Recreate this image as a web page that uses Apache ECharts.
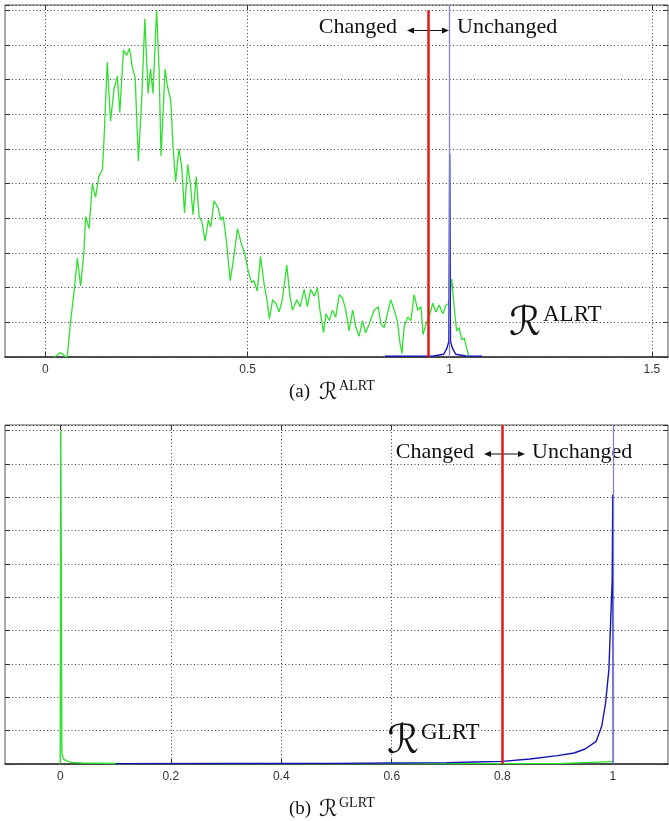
<!DOCTYPE html>
<html><head><meta charset="utf-8">
<script src="https://cdn.jsdelivr.net/npm/echarts@6/dist/echarts.min.js"></script>
<style>html,body{margin:0;padding:0;background:#fff;}#c{width:669px;height:821px;}</style>
</head><body><div id="c"></div>
<script>
// ---------- data ----------
const xTicksA = [0, 0.5, 1, 1.5];
const xTickLabelsA = ['0', '0.5', '1', '1.5'];
const xTicksB = [0, 0.2, 0.4, 0.6, 0.8, 1];
const xTickLabelsB = ['0', '0.2', '0.4', '0.6', '0.8', '1'];

// (a) ALRT: histogram of changed pixels (green)
const greenA = [
  [0.02,0],[0.029,0.05],[0.036,0.12],[0.042,0.1],[0.048,0.02],[0.054,0],[0.062,1.0],[0.071,1.9],
  [0.079,2.85],[0.087,2.05],[0.095,3.0],[0.0995,4.05],[0.108,3.7],[0.116,5.0],[0.124,4.6],[0.132,5.2],
  [0.141,5.4],[0.145,6.3],[0.153,8.5],[0.161,6.8],[0.170,7.75],[0.178,8.1],[0.184,7.05],[0.193,8.85],
  [0.201,8.7],[0.208,8.9],[0.215,8.35],[0.222,8.05],[0.230,5.65],[0.238,7.4],[0.246,9.75],[0.254,7.6],
  [0.260,8.3],[0.266,7.6],[0.275,10.0],[0.281,8.35],[0.286,5.8],[0.296,8.3],[0.302,7.8],[0.310,7.4],
  [0.316,6.0],[0.322,5.05],[0.330,6.0],[0.337,5.5],[0.344,4.15],[0.352,5.55],[0.359,4.95],[0.365,4.1],
  [0.373,5.2],[0.380,4.05],[0.387,3.9],[0.395,3.35],[0.403,3.95],[0.409,3.75],[0.417,4.5],[0.427,4.3],
  [0.434,3.95],[0.440,4.05],[0.449,3.2],[0.457,2.2],[0.465,2.8],[0.475,3.7],[0.485,3.25],[0.493,3.0],
  [0.501,2.5],[0.510,2.15],[0.516,2.2],[0.524,1.9],[0.532,2.9],[0.541,2.1],[0.548,1.65],[0.554,1.1],
  [0.562,1.65],[0.570,1.55],[0.578,1.3],[0.586,1.65],[0.597,2.65],[0.605,1.75],[0.611,1.35],[0.622,1.65],
  [0.630,1.45],[0.640,1.95],[0.648,1.45],[0.656,1.95],[0.665,1.75],[0.673,2.0],[0.679,1.35],[0.688,0.7],
  [0.694,1.25],[0.702,1.05],[0.710,1.35],[0.718,1.15],[0.727,1.8],[0.735,1.7],[0.743,1.35],[0.751,0.75],
  [0.760,1.35],[0.768,0.85],[0.776,0.6],[0.784,1.05],[0.792,0.7],[0.801,0.95],[0.813,1.35],[0.823,1.45],
  [0.830,0.95],[0.838,0.85],[0.848,1.35],[0.854,1.65],[0.863,1.35],[0.871,1.0],[0.877,0.4],[0.882,0.1],
  [0.887,0.85],[0.896,1.15],[0.904,1.05],[0.912,1.8],[0.921,1.35],[0.929,1.45],[0.934,0.65],[0.943,1.0],
  [0.949,1.15],[0.958,1.55],[0.966,1.3],[0.974,1.5],[0.983,1.25],[0.991,1.5],[0.999,1.55],[1.005,2.25],
  [1.011,1.45],[1.017,0.75],[1.023,0.85],[1.030,0.5],[1.036,0.55],[1.041,0.3],[1.048,0]
];
// (a) ALRT: histogram of unchanged pixels (blue)
const blueA = [
  [0.84,0.02],[0.90,0.02],[0.96,0.03],[0.985,0.08],[0.993,0.25],[0.998,0.45],[1.0,5.87],
  [1.002,0.45],[1.007,0.25],[1.015,0.08],[1.04,0.03],[1.08,0.02]
];
// (b) GLRT
const greenB = [
  [0.0,0],[0.001,10.0],[0.003,0.3],[0.006,0.15],[0.01,0.1],[0.02,0.05],[0.04,0.03],[0.1,0.015],
  [0.5,0.01],[0.9,0.01],[0.96,0.05],[1.0,0.07]
];
const blueB = [
  [0.1,0.01],[0.3,0.015],[0.5,0.02],[0.6,0.03],[0.7,0.04],[0.75,0.06],[0.8,0.08],[0.85,0.15],
  [0.9,0.25],[0.93,0.33],[0.95,0.45],[0.97,0.68],[0.98,1.13],[0.987,1.83],[0.993,2.83],
  [0.997,4.63],[0.999,5.53],[1.0,8.08],[1.001,0]
];
const thresholdA = 0.948;
const thresholdATop = 10;
const thresholdB = 0.8;
const unchangedMode = 1;

// ---------- styles ----------
const GREEN = '#2fe02f', BLUE = '#1414b4', VIOLET = '#7a7ae0', RED = '#e01818';
const GRIDC = '#3a3a3a', AXC = '#333';
const serif = "'Liberation Serif', 'Times New Roman', serif";
const scriptFont = "'DejaVu Serif', 'DejaVu Sans', serif";

function xAxes(gi, min, max, ticks, labels) {
  const fmt = v => { const i = ticks.findIndex(t => Math.abs(t - v) < 1e-9); return i >= 0 ? labels[i] : ''; };
  return [{
    type: 'value', gridIndex: gi, min, max, position: 'bottom',
    axisLine: { show: true, onZero: false, lineStyle: { color: AXC, width: 1.6 } },
    axisTick: { show: true, inside: true, length: 5, customValues: ticks, lineStyle: { color: AXC } },
    axisLabel: { show: true, customValues: ticks, formatter: fmt, fontFamily: "'Liberation Sans Narrow', 'Liberation Sans', sans-serif", fontSize: 12, color: '#333', margin: 7 },
    splitLine: { show: true, lineStyle: { color: GRIDC, type: [1, 2.5], width: 1 } }
  }, {
    type: 'value', gridIndex: gi, min, max, position: 'top',
    axisLine: { show: false, onZero: false },
    axisTick: { show: true, inside: true, length: 5, customValues: ticks, lineStyle: { color: AXC } },
    axisLabel: { show: false }, splitLine: { show: false }
  }];
}
function yAxes(gi, max) {
  return [{
    type: 'value', gridIndex: gi, min: 0, max, interval: 1, position: 'left',
    axisLine: { show: false, onZero: false }, axisLabel: { show: false },
    axisTick: { show: true, inside: true, length: 5, lineStyle: { color: AXC } },
    splitLine: { show: true, lineStyle: { color: GRIDC, type: [1, 2.5], width: 1 } }
  }, {
    type: 'value', gridIndex: gi, min: 0, max, interval: 1, position: 'right',
    axisLine: { show: false, onZero: false }, axisLabel: { show: false },
    axisTick: { show: true, inside: true, length: 5, lineStyle: { color: AXC } },
    splitLine: { show: false }
  }];
}
function line(name, data, color, xi, yi, width, extra) {
  return Object.assign({
    name, type: 'line', data, xAxisIndex: xi, yAxisIndex: yi, showSymbol: false, symbol: 'none',
    smooth: false, lineStyle: { color, width }, itemStyle: { color }, silent: true, animation: false
  }, extra || {});
}
function vline(x, color, width) {
  return { xAxis: x, lineStyle: { color, width, type: 'solid' } };
}

const chart = echarts.init(document.getElementById('c'), null, { renderer: 'canvas' });
const option = {
  backgroundColor: '#fff',
  animation: false,
  grid: [
    { left: 5, top: 5, width: 663, height: 352, show: true, borderColor: '#555', borderWidth: 1, backgroundColor: 'transparent' },
    { left: 5, top: 425, width: 663, height: 339, show: true, borderColor: '#555', borderWidth: 1, backgroundColor: 'transparent' }
  ],
  xAxis: [].concat(xAxes(0, -0.1, 1.54, xTicksA, xTickLabelsA), xAxes(1, -0.1, 1.1, xTicksB, xTickLabelsB)),
  yAxis: [].concat(yAxes(0, 10.15), yAxes(1, 10.17)),
  series: [
    line('changedA', greenA, GREEN, 0, 0, 1.3),
    line('unchangedA', blueA, BLUE, 0, 0, 1.4, {
      markLine: { silent: true, symbol: 'none', label: { show: false }, animation: false,
        data: [ vline(unchangedMode, VIOLET, 1.2),
          [{ coord: [thresholdA, 0], lineStyle: { color: RED, width: 2.5, type: 'solid' } }, { coord: [thresholdA, thresholdATop] }] ] }
    }),
    line('changedB', greenB, GREEN, 2, 2, 1.4),
    line('unchangedB', blueB, BLUE, 2, 2, 1.4, {
      markLine: { silent: true, symbol: 'none', label: { show: false }, animation: false,
        data: [ vline(unchangedMode, VIOLET, 1.2), vline(thresholdB, RED, 2.5) ] }
    })
  ]
};
chart.setOption(option);

function arrow(x1, x2, y) {
  return { type: 'group', children: [
    { type: 'line', shape: { x1: x1 + 4, y1: y, x2: x2 - 4, y2: y }, style: { stroke: '#111', lineWidth: 1.2 } },
    { type: 'polygon', shape: { points: [[x1, y], [x1 + 7, y - 3], [x1 + 7, y + 3]] }, style: { fill: '#111' } },
    { type: 'polygon', shape: { points: [[x2, y], [x2 - 7, y - 3], [x2 - 7, y + 3]] }, style: { fill: '#111' } }
  ] };
}
function txt(text, x, y, font, align, vAlign) {
  return { type: 'text', x, y, style: { text, font, fill: '#111', align: align || 'left', verticalAlign: vAlign || 'middle' } };
}
function bigR(x, y, sup) {
  return { type: 'group', children: [
    txt('ℛ', x, y + 3, 'italic 40px ' + scriptFont, 'left', 'top'),
    txt(sup, x + 34, y + 1, '23px ' + serif, 'left', 'top')
  ] };
}
function caption(lbl, sup, x, yMid) {
  return { type: 'group', children: [
    txt(lbl, x, yMid, '19px ' + serif, 'left', 'middle'),
    txt('ℛ', x + 30, yMid + 1, 'italic 23px ' + scriptFont, 'left', 'middle'),
    txt(sup, x + 50, yMid - 13, '14px ' + serif, 'left', 'top')
  ] };
}
chart.setOption({ graphic: [
  txt('Changed', 397, 27, '22px ' + serif, 'right'),
  txt('Unchanged', 457, 27, '22px ' + serif, 'left'),
  arrow(407, 449, 30.5),
  bigR(509, 302, 'ALRT'),
  caption('(a)', 'ALRT', 289, 392),
  txt('Changed', 474, 452, '22px ' + serif, 'right'),
  txt('Unchanged', 532, 452, '22px ' + serif, 'left'),
  arrow(484, 525, 454),
  bigR(387, 720, 'GLRT'),
  caption('(b)', 'GLRT', 289, 809)
] });
</script></body></html>
